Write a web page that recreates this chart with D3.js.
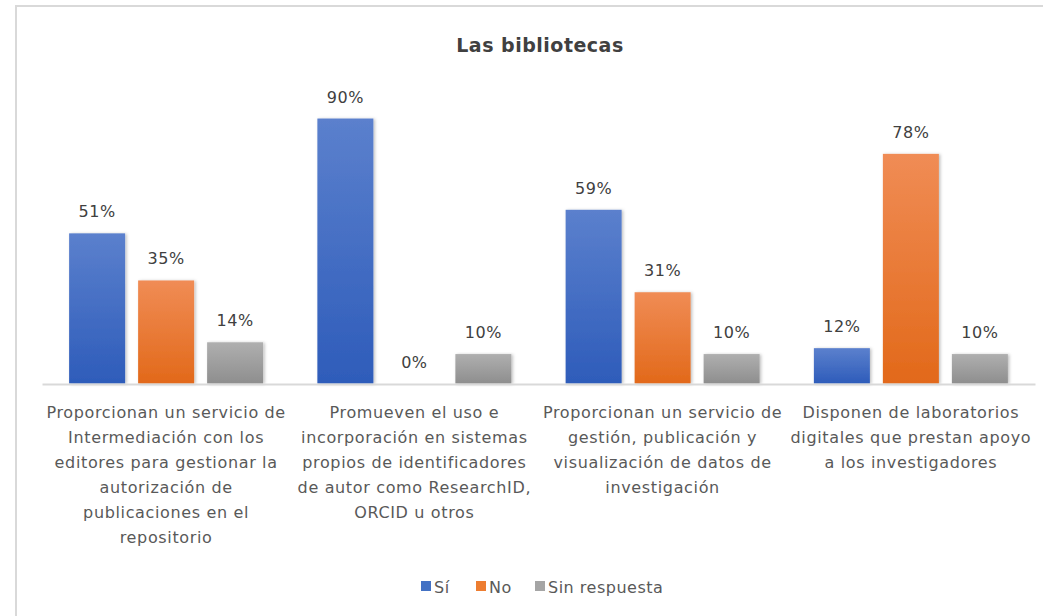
<!DOCTYPE html>
<html>
<head>
<meta charset="utf-8">
<script src="https://cdn.jsdelivr.net/npm/d3@7"></script>
<style>
  body { margin: 0; background: #fff; }
  text { font-family: "DejaVu Sans", "Liberation Sans", sans-serif; }
</style>
</head>
<body>
<div id="chart"></div>
<script>
  // data
  var categories = ["c1", "c2", "c3", "c4"];
  var categoryLines = [
    ["Proporcionan un servicio de", "Intermediación con los", "editores para gestionar la", "autorización de", "publicaciones en el", "repositorio"],
    ["Promueven el uso e", "incorporación en sistemas", "propios de identificadores", "de autor como ResearchID,", "ORCID u otros"],
    ["Proporcionan un servicio de", "gestión, publicación y", "visualización de datos de", "investigación"],
    ["Disponen de laboratorios", "digitales que prestan apoyo", "a los investigadores"]
  ];
  var seriesNames = ["Sí", "No", "Sin respuesta"];
  var si = [0.51, 0.90, 0.59, 0.12];
  var no = [0.35, 0.00, 0.31, 0.78];
  var sinRespuesta = [0.14, 0.10, 0.10, 0.10];
  var seriesValues = [si, no, sinRespuesta];

  var colors = ["#4472c4", "#ed7d31", "#a5a5a5"];
  var topColors = ["#5b80cd", "#f08c55", "#afafaf"];
  var bottomColors = ["#2e5cba", "#e2691a", "#8e8e8e"];

  var W = 1043, H = 616;
  var svg = d3.select("#chart").append("svg")
    .attr("width", W).attr("height", H);

  var defs = svg.append("defs");
  seriesNames.forEach(function (s, i) {
    var g = defs.append("linearGradient")
      .attr("id", "grad" + i)
      .attr("x1", 0).attr("y1", 0).attr("x2", 0).attr("y2", 1);
    g.append("stop").attr("offset", "0%").attr("stop-color", topColors[i]);
    g.append("stop").attr("offset", "100%").attr("stop-color", bottomColors[i]);
  });
  var f = defs.append("filter").attr("id", "shadow")
    .attr("x", "-20%").attr("y", "-5%").attr("width", "150%").attr("height", "115%");
  f.append("feDropShadow").attr("dx", 1.5).attr("dy", 0.5)
    .attr("stdDeviation", 1.5).attr("flood-color", "#000").attr("flood-opacity", 0.25);

  // chart frame (only top and left edges are visible)
  svg.append("line").attr("x1", 15).attr("x2", W).attr("y1", 6).attr("y2", 6)
    .attr("stroke", "#d9d9d9").attr("stroke-width", 2);
  svg.append("line").attr("x1", 16).attr("x2", 16).attr("y1", 5).attr("y2", H)
    .attr("stroke", "#d9d9d9").attr("stroke-width", 2);

  svg.append("text")
    .attr("x", 540).attr("y", 52)
    .attr("text-anchor", "middle")
    .style("font-size", "19px").style("font-weight", "bold")
    .style("letter-spacing", "0.5px")
    .style("fill", "#404040")
    .text("Las bibliotecas");

  var x0 = d3.scaleBand().domain(categories).range([42, 1035]);
  var x1 = d3.scaleBand().domain(seriesNames).range([0, 194]).paddingInner(13 / 69);
  var y = d3.scaleLinear().domain([0, 1]).range([383.5, 89.1]);

  var groups = svg.selectAll("g.cat")
    .data(categories)
    .enter().append("g")
    .attr("class", "cat")
    .attr("transform", function (d) {
      return "translate(" + (x0(d) + x0.bandwidth() / 2 - 97) + ",0)";
    });

  groups.selectAll("rect")
    .data(function (d, ci) {
      return seriesNames.map(function (s, si) { return {s: s, si: si, v: seriesValues[si][ci]}; });
    })
    .enter().append("rect")
    .attr("x", function (d) { return x1(d.s); })
    .attr("y", function (d) { return y(d.v); })
    .attr("width", x1.bandwidth())
    .attr("height", function (d) { return y(0) - y(d.v); })
    .attr("fill", function (d) { return "url(#grad" + d.si + ")"; })
    .attr("filter", "url(#shadow)");

  groups.selectAll("text.val")
    .data(function (d, ci) {
      return seriesNames.map(function (s, si) { return {s: s, si: si, v: seriesValues[si][ci]}; });
    })
    .enter().append("text")
    .attr("class", "val")
    .attr("x", function (d) { return x1(d.s) + x1.bandwidth() / 2; })
    .attr("y", function (d) { return y(d.v) - 16; })
    .attr("text-anchor", "middle")
    .style("font-size", "16px")
    .style("letter-spacing", "0.5px")
    .style("fill", "#404040")
    .text(function (d) { return d3.format(".0%")(d.v); });

  // category axis
  var xAxis = d3.axisBottom(x0).tickSize(0).tickFormat("");
  var ax = svg.append("g")
    .attr("transform", "translate(0," + 384 + ")")
    .call(xAxis);
  ax.select(".domain").attr("stroke", "#d9d9d9").attr("stroke-width", 2);

  ax.selectAll(".tick").each(function (d, i) {
    var t = d3.select(this).append("text")
      .attr("text-anchor", "middle")
      .attr("y", 34)
      .style("font-size", "16px")
      .style("letter-spacing", "0.65px")
      .style("fill", "#595959");
    categoryLines[i].forEach(function (line, k) {
      t.append("tspan").attr("x", 0).attr("y", 34 + k * 25).text(line);
    });
  });

  // legend
  var legendX = [421, 476, 535];
  var legend = svg.selectAll("g.leg")
    .data(seriesNames)
    .enter().append("g")
    .attr("class", "leg")
    .attr("transform", function (d, i) { return "translate(" + legendX[i] + ",587)"; });
  legend.append("rect")
    .attr("x", 0).attr("y", -6).attr("width", 10).attr("height", 10)
    .attr("fill", function (d, i) { return colors[i]; });
  legend.append("text")
    .attr("x", 13).attr("y", 6)
    .style("font-size", "16px")
    .style("letter-spacing", "0.5px")
    .style("fill", "#595959")
    .text(function (d) { return d; });
</script>
</body>
</html>
